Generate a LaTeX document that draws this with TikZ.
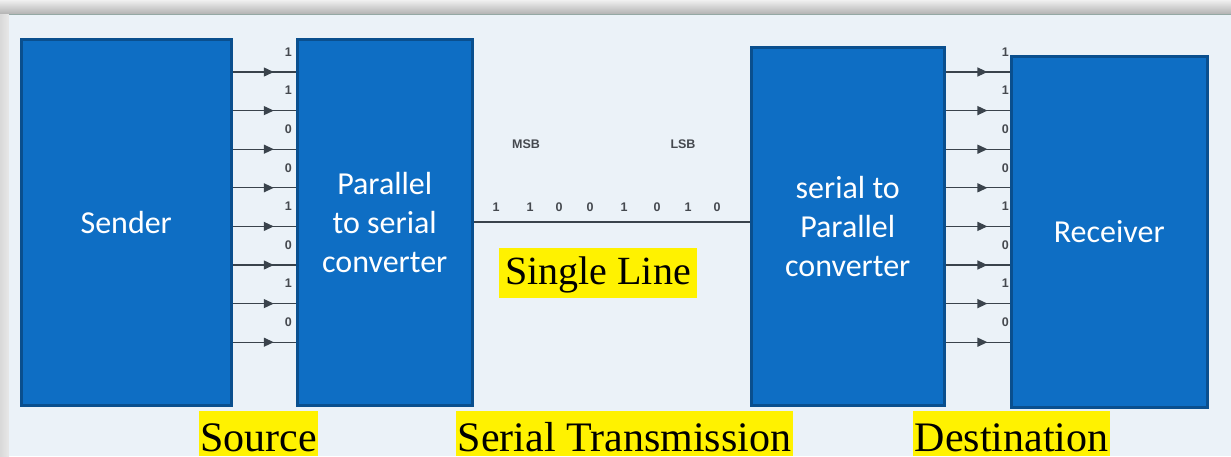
\documentclass[tikz,border=0pt]{standalone}
\usepackage{fontspec}
\setmainfont{Liberation Serif}
\newfontfamily\boxfont{Carlito}
\newfontfamily\smallfont{Liberation Sans}
\usetikzlibrary{arrows.meta,decorations.markings,calc}
\definecolor{panel}{HTML}{EBF2F8}
\definecolor{boxblue}{HTML}{0E6EC4}
\definecolor{boxedge}{HTML}{0A4F8E}
\definecolor{wire}{HTML}{3A434C}
\definecolor{bitgray}{HTML}{45494F}
\definecolor{panelline}{HTML}{94A8A4}

\begin{document}
\begin{tikzpicture}[x=1pt,y=-1pt,
  unit/.style={draw=boxedge, line width=2.5pt, fill=boxblue, anchor=north west,
    inner sep=0pt, text=white, font=\boxfont\fontsize{32}{39}\selectfont, align=center},
  bitline/.style={draw=wire, line width=1.3pt, postaction={decorate},
    decoration={markings, mark=at position 0.65 with {\arrow{Triangle[length=10pt,width=9pt]}}}},
  bitlabel/.style={text=bitgray, font=\smallfont\bfseries\fontsize{12.5}{12.5}\selectfont, inner sep=0pt},
  tag/.style={fill=yellow, text=black, inner ysep=0pt},
]
\useasboundingbox (0,0) rectangle (1231,456);

% backdrop: gray frame with the light panel on top
\fill[gray!30] (0,0) rectangle (1231,456);
\shade[top color=gray!12, bottom color=gray!60] (0,0) rectangle (1231,14);
\shade[left color=gray!30, right color=gray!18] (0,14) rectangle (9,456);
\fill[panel] (9,14) rectangle (1231,456);
\draw[panelline, line width=1pt] (9,14) -- (1231,14);

% the four blocks
\node[unit, minimum width=210pt, minimum height=366pt] (sender) at (20,38) {Sender};
\node[unit, minimum width=175pt, minimum height=366pt] (p2s) at (296,38) {Parallel\\to serial\\converter};
\node[unit, minimum width=193pt, minimum height=358pt] (s2p) at (750,46) {serial to\\Parallel\\converter};
\node[unit, minimum width=196pt, minimum height=351pt] (recv) at (1010,55) {Receiver};

% eight parallel wires on each side
\foreach \b [count=\i from 0] in {1,1,0,0,1,0,1,0} {
  \pgfmathsetmacro{\yy}{72+38.6*\i}
  \draw[bitline] (sender.east |- 0,\yy) -- (p2s.west |- 0,\yy);
  \node[bitlabel, anchor=east] (lbit\i) at (292,\yy-20) {\b};
  \draw[bitline] (s2p.east |- 0,\yy) -- (recv.west |- 0,\yy);
  \node[bitlabel, anchor=east] (rbit\i) at (1009,\yy-20) {\b};
}

% the single serial line
\draw[wire, line width=1.8pt] (p2s.east |- 0,222) -- (s2p.west |- 0,222);
\foreach \b/\xx [count=\i] in {1/496,1/530,0/559,0/590,1/624,0/657,1/688,0/717} {
  \node[bitlabel] (sbit\i) at (\xx,207) {\b};
}
\node[bitlabel] (msb) at (526,144) {MSB};
\node[bitlabel] (lsb) at (683,144) {LSB};

% highlighted captions
\node[tag, inner xsep=6pt, font=\fontsize{40}{40}\selectfont, text height=36pt, text depth=14pt, anchor=north] (single) at (598,248) {Single Line};
\node[tag, inner xsep=1.5pt, font=\fontsize{42}{42}\selectfont, text height=40pt, text depth=5pt, anchor=north] (source) at (258.5,411) {Source};
\node[tag, inner xsep=1.5pt, font=\fontsize{42}{42}\selectfont, text height=40pt, text depth=5pt, anchor=north] (serial) at (624.5,411) {Serial Transmission};
\node[tag, inner xsep=1.5pt, font=\fontsize{42}{42}\selectfont, text height=40pt, text depth=5pt, anchor=north] (dest) at (1011.5,411) {Destination};
\end{tikzpicture}
\end{document}
